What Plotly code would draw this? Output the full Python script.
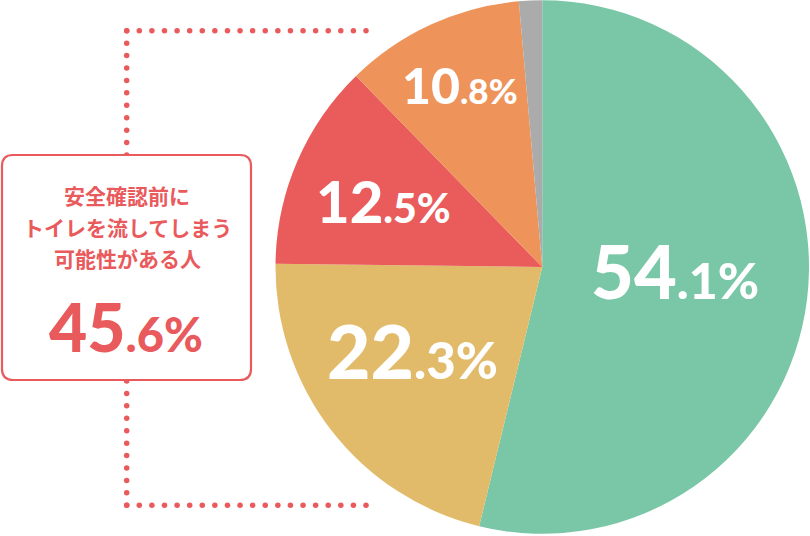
import numpy as np
import plotly.graph_objects as go

# ---- data ----
categories = ["区分A", "区分B", "区分C", "区分D", "その他"]
slice_shares = [53.8, 21.4, 12.5, 10.9, 1.4]          # drawn slice sizes
label_main = ["54", "22", "12", "10", None]
label_frac = [".1%", ".3%", ".5%", ".8%", None]
colors = ["#79C7A7", "#E2BB6A", "#EA5B5B", "#EE935A", "#ABABAB"]
box_lines = ["安全確認前に", "トイレを流してしまう", "可能性がある人"]
box_main, box_frac = "45", ".6%"

W, H = 810, 536
RED = "#E95A5C"
FONT = "Lato"

fig = go.Figure()

fig.add_trace(go.Pie(
    labels=categories, values=slice_shares, sort=False, direction="clockwise",
    rotation=0, marker=dict(colors=colors, line=dict(width=0)),
    textinfo="none", hoverinfo="skip", showlegend=False,
    domain=dict(x=[275.5 / W, 809 / W], y=[1 - 534 / H, 1.0]),
))

# dotted bracket
dx = np.linspace(126.7, 366, 20)
vy1 = np.linspace(30.7, 155, 11)
vy2 = np.linspace(381, 505.3, 11)
xs = np.concatenate([dx, dx, np.full(11, 126.7), np.full(11, 126.7)])
ys = np.concatenate([np.full(20, 30.7), np.full(20, 505.3), vy1, vy2])
fig.add_trace(go.Scatter(x=xs, y=ys, mode="markers", hoverinfo="skip",
                         marker=dict(size=5.5, color=RED, line=dict(width=0)),
                         showlegend=False))

# rounded box
x0, x1, y0, y1, r = 2, 251, 155, 380, 11
path = (f"M{x0+r},{y0} L{x1-r},{y0} Q{x1},{y0} {x1},{y0+r} L{x1},{y1-r} "
        f"Q{x1},{y1} {x1-r},{y1} L{x0+r},{y1} Q{x0},{y1} {x0},{y1-r} "
        f"L{x0},{y0+r} Q{x0},{y0} {x0+r},{y0} Z")
fig.add_shape(type="path", path=path, xref="x", yref="y",
              line=dict(color=RED, width=2.2), fillcolor="white", layer="above")

# box text
for t, yy in zip(box_lines, [195, 227, 258]):
    fig.add_annotation(x=127, y=yy, xref="x", yref="y", text=t, showarrow=False,
                       font=dict(family="Noto Sans CJK JP", size=21, color=RED, weight="bold"),
                       xanchor="center", yanchor="middle")
fig.add_annotation(x=126, y=326, xref="x", yref="y", showarrow=False,
                   text=f"<span style='font-size:66px'>{box_main}</span>"
                        f"<span style='font-size:47px'>{box_frac}</span>",
                   font=dict(family=FONT, size=66, color=RED, weight=900),
                   xanchor="center", yanchor="middle")

# slice labels
label_pos = [(675, 270, 74, 50), (412, 350, 75, 51), (383, 200, 58, 41), (460, 85, 50, 35)]
for m, f, (lx, ly, s1, s2) in zip(label_main, label_frac, label_pos):
    if m is None:
        continue
    fig.add_annotation(x=lx, y=ly, xref="x", yref="y", showarrow=False,
                       text=f"<span style='font-size:{s1}px'>{m}</span>"
                            f"<span style='font-size:{s2}px'>{f}</span>",
                       font=dict(family=FONT, size=s1, color="white", weight=900),
                       xanchor="center", yanchor="middle")

fig.update_layout(
    width=W, height=H, margin=dict(l=0, r=0, t=0, b=0),
    paper_bgcolor="white", plot_bgcolor="rgba(0,0,0,0)",
    xaxis=dict(range=[0, W], visible=False, domain=[0, 1], fixedrange=True),
    yaxis=dict(range=[H, 0], visible=False, domain=[0, 1], fixedrange=True),
)

fig.write_html("out.html", config={"displayModeBar": False},
               post_script="document.body.style.margin='0';document.body.style.overflow='hidden';")
